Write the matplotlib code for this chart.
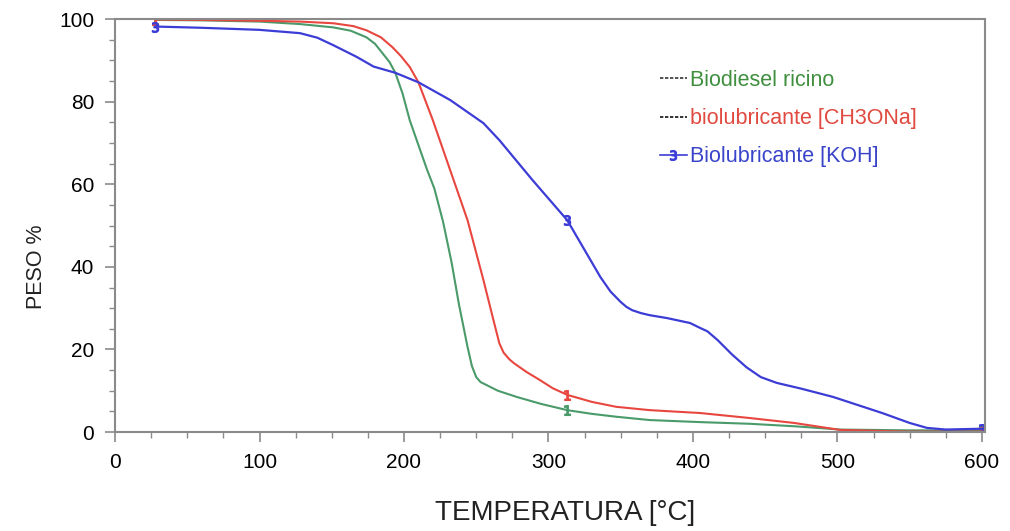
#!/usr/bin/env python3

import matplotlib
matplotlib.use("Agg")
from matplotlib import pyplot as plt
from matplotlib.lines import Line2D
from matplotlib.ticker import MultipleLocator

plt.rcParams["font.family"] = ["Liberation Sans", "DejaVu Sans"]

# Biodiesel ricino
temp_bio = [28, 60, 100, 128, 151, 163, 174, 180, 185, 190, 194, 199, 204,
            210, 216, 221, 227, 233, 238, 244, 247, 250, 253, 257, 265, 278,
            295, 313, 330, 347, 370, 405, 439, 470, 502, 550, 600]
peso_bio = [99.8, 99.7, 99.4, 98.8, 98.0, 97.2, 95.6, 94.0, 91.8, 89.6,
            87.0, 82.0, 75.5, 69.5, 63.5, 59.0, 51.0, 41.0, 31.0, 20.6, 16.0,
            13.3, 12.1, 11.4, 10.0, 8.5, 6.8, 5.3, 4.4, 3.7, 2.9, 2.4, 2.0,
            1.4, 0.6, 0.4, 0.4]

# biolubricante [CH3ONa]
temp_ch = [28, 60, 100, 128, 151, 165, 174, 184, 192, 198, 204, 210, 220,
           232, 244, 255, 262, 266, 269, 273, 276, 285, 294, 303, 313, 330,
           347, 370, 405, 439, 470, 502, 550, 600]
peso_ch = [99.9, 99.8, 99.6, 99.4, 99.0, 98.3, 97.3, 95.6, 93.2, 91.0, 88.4,
           84.7, 75.5, 63.4, 51.3, 36.8, 27.0, 21.5, 19.2, 17.6, 16.7, 14.5,
           12.6, 10.6, 9.0, 7.3, 6.1, 5.3, 4.6, 3.4, 2.2, 0.5, 0.1, 0.1]

# Biolubricante [KOH]
temp_koh = [28, 60, 100, 128, 140, 151, 167, 179, 194, 210, 232, 255, 266,
            289, 313, 336, 343, 350, 354, 358, 364, 370, 382, 398, 405, 410,
            417, 427, 437, 447, 458, 475, 497, 531, 550, 562, 575, 600]
peso_koh = [98.2, 97.9, 97.4, 96.6, 95.5, 93.7, 90.9, 88.5, 87.0, 84.7,
            80.4, 74.8, 70.7, 61.0, 51.3, 37.5, 34.0, 31.5, 30.3, 29.5, 28.8,
            28.3, 27.6, 26.4, 25.2, 24.4, 22.3, 18.8, 15.7, 13.3, 11.9, 10.5,
            8.5, 4.6, 2.2, 1.0, 0.6, 0.8]

mark_temps = [28, 313, 600]


def mark_idx(temps):
    return [i for i, t in enumerate(temps) if t in mark_temps]


fig = plt.figure(figsize=(10.1, 5.31), dpi=100)
ax = fig.add_axes([0.1139, 0.1864, 0.8611, 0.7776])

ax.plot(temp_bio, peso_bio, color="#4a9a6a", lw=1.5, marker="$1$",
        markersize=7, markevery=mark_idx(temp_bio))
ax.plot(temp_ch, peso_ch, color="#e8473f", lw=1.5, marker="$1$",
        markersize=7, markevery=mark_idx(temp_ch))
ax.plot(temp_koh, peso_koh, color="#3c3cd6", lw=1.6, marker="$3$",
        markersize=7, markevery=mark_idx(temp_koh))

ax.set_xlim(0, 602)
ax.set_ylim(0, 100)
ax.xaxis.set_major_locator(MultipleLocator(100))
ax.xaxis.set_minor_locator(MultipleLocator(25))
ax.yaxis.set_major_locator(MultipleLocator(20))
ax.yaxis.set_minor_locator(MultipleLocator(5))

for side in ["left", "right", "top", "bottom"]:
    ax.spines[side].set_color("#8a8a8a")
    ax.spines[side].set_linewidth(1.5)

ax.tick_params(which="major", length=7, width=1.2, color="#8a8a8a",
               labelsize=15, pad=8)
ax.tick_params(which="minor", length=4, width=1.0, color="#8a8a8a")

ax.set_xlabel("TEMPERATURA [°C]", fontsize=20, color="#222222")
ax.set_ylabel("PESO %", fontsize=15.5, color="#222222")
ax.xaxis.set_label_coords(0.518, -0.165)
ax.yaxis.set_label_coords(-0.078, 0.40)

handles = [
    Line2D([], [], color="#333333", lw=1.2, ls=(0, (2, 1))),
    Line2D([], [], color="#111111", lw=1.2, ls=(0, (2, 1))),
    Line2D([], [], color="#3c3cd6", lw=1.2, marker="$3$", markersize=7),
]
labels = ["Biodiesel ricino", "biolubricante [CH3ONa]",
          "Biolubricante [KOH]"]
ax.legend(handles, labels, loc="upper left", bbox_to_anchor=(0.634, 0.905),
          bbox_transform=fig.transFigure, frameon=False, fontsize=15.5,
          handlelength=1.25, handletextpad=0.15, labelspacing=0.8,
          labelcolor=["#3f8f3f", "#e04a40", "#3a44c8"])

plt.savefig("out.png")
